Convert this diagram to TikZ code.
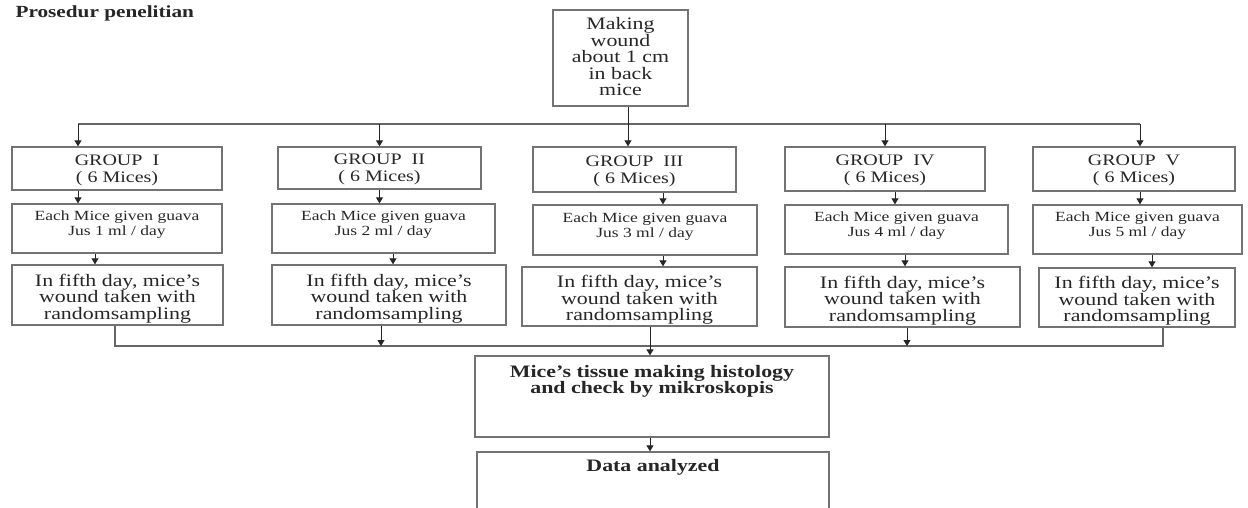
\documentclass[tikz,border=0pt]{standalone}
\usepackage{fontspec}
\setmainfont[FakeStretch=1.25]{Liberation Serif}
\usetikzlibrary{arrows.meta}

\begin{document}
\begin{tikzpicture}[x=1pt,y=-1pt,
    box/.style={draw=black!55, line width=1.3pt, inner sep=0pt, align=center, text=black!85},
    grp/.style={box, font=\fontsize{16}{17}\selectfont, text depth=0pt},
    dose/.style={box, font=\fontsize{14}{15}\selectfont, text depth=10pt},
    take/.style={box, font=\fontsize{17.5}{16.5}\selectfont, text height=48pt, text depth=0pt},
    arr/.style={draw=black!85, line width=1pt, -{Triangle[length=6pt,width=7pt]}},
    bus/.style={draw=black!60, line width=1.2pt}]
    % frame
        \clip (0,0) rectangle (1248,507);
    % title
        \node[font=\fontsize{17}{17}\bfseries\selectfont, text=black!85, anchor=base west] (title) at (12,17) {Prosedur penelitian};
    % start
        \node[box, minimum width=135pt, minimum height=96pt, text depth=3pt, font=\fontsize{17.5}{16.5}\selectfont] (wound) at (620.5,58) {Making\\wound\\about 1 cm\\in back\\mice};
    % groups
        \node[grp, minimum width=210pt, minimum height=43pt] (g1a) at (117,168.5) {GROUP\ \ I\\( 6 Mices)};
        \node[grp, minimum width=203pt, minimum height=42pt] (g2a) at (379.5,168) {GROUP\ \ II\\( 6 Mices)};
        \node[grp, minimum width=203pt, minimum height=45pt] (g3a) at (634.5,169.5) {GROUP\ \ III\\( 6 Mices)};
        \node[grp, minimum width=200pt, minimum height=44pt] (g4a) at (885,169) {GROUP\ \ IV\\( 6 Mices)};
        \node[grp, minimum width=202pt, minimum height=44pt] (g5a) at (1134,169) {GROUP\ \ V\\( 6 Mices)};
    % doses
        \node[dose, minimum width=210pt, minimum height=49pt] (g1b) at (117,228.5) {Each Mice given guava\\Jus 1 ml / day};
        \node[dose, minimum width=223pt, minimum height=49pt] (g2b) at (383.5,228.5) {Each Mice given guava\\Jus 2 ml / day};
        \node[dose, minimum width=224pt, minimum height=50pt] (g3b) at (645,230) {Each Mice given guava\\Jus 3 ml / day};
        \node[dose, minimum width=223pt, minimum height=49pt] (g4b) at (896.5,229.5) {Each Mice given guava\\Jus 4 ml / day};
        \node[dose, minimum width=209pt, minimum height=49pt] (g5b) at (1137.5,229.5) {Each Mice given guava\\Jus 5 ml / day};
    % sampling
        \node[take, minimum width=211pt, minimum height=60pt] (g1c) at (117.5,295) {In fifth day, mice's\\wound taken with\\randomsampling};
        \node[take, minimum width=234pt, minimum height=60pt] (g2c) at (389,295) {In fifth day, mice's\\wound taken with\\randomsampling};
        \node[take, minimum width=235pt, minimum height=59pt] (g3c) at (639.5,296.5) {In fifth day, mice's\\wound taken with\\randomsampling};
        \node[take, minimum width=235pt, minimum height=60pt] (g4c) at (902.5,297) {In fifth day, mice's\\wound taken with\\randomsampling};
        \node[take, minimum width=196pt, minimum height=59pt] (g5c) at (1137,297.5) {In fifth day, mice's\\wound taken with\\randomsampling};
    % end
        \node[box, minimum width=354pt, minimum height=81pt, text depth=34pt, font=\fontsize{17.5}{16.5}\bfseries\selectfont] (tissue) at (652,396.5) {Mice's tissue making histology\\and check by mikroskopis};
        \node[box, minimum width=352pt, minimum height=100pt, text depth=74pt, font=\fontsize{17.5}{16.5}\bfseries\selectfont] (data) at (653,502) {Data analyzed};
    % bus lines
        \coordinate (topL) at (78,124);
        \coordinate (topR) at (1140,124);
        \coordinate (botL) at (115,346);
        \coordinate (botR) at (1163,346);
        \draw[bus] (topL) -- (topR);
        \draw[bus] (g1c.south -| botL) -- (botL) -- (botR) -- (g5c.south -| botR);
    % arrows
        \draw[arr] ([xshift=7.5pt]wound.south) -- ([xshift=-6.5pt]g3a.north);
        \draw[arr] (topL) -- (topL |- g1a.north);
        \draw[arr] (g2a.north |- topL) -- (g2a.north);
        \draw[arr] (g4a.north |- topL) -- (g4a.north);
        \draw[arr] (topR) -- (topR |- g5a.north);
        \draw[arr] (g1a.south -| topL) -- (g1b.north -| topL);
        \draw[arr] (g2a.south) -- (g2a.south |- g2b.north);
        \draw[arr] ([xshift=28.5pt]g3a.south) -- ([xshift=28.5pt]g3a.south |- g3b.north);
        \draw[arr] ([xshift=10pt]g4a.south) -- ([xshift=10pt]g4a.south |- g4b.north);
        \draw[arr] (g5a.south -| topR) -- (g5b.north -| topR);
        \draw[arr] ([xshift=-22pt]g1b.south) -- ([xshift=-22pt]g1b.south |- g1c.north);
        \draw[arr] ([xshift=9.5pt]g2b.south) -- ([xshift=9.5pt]g2b.south |- g2c.north);
        \draw[arr] ([xshift=18pt]g3b.south) -- ([xshift=18pt]g3b.south |- g3c.north);
        \draw[arr] ([xshift=8.5pt]g4b.south) -- ([xshift=8.5pt]g4b.south |- g4c.north);
        \draw[arr] ([xshift=14.5pt]g5b.south) -- ([xshift=14.5pt]g5b.south |- g5c.north);
        \draw[arr] ([xshift=-8pt]g2c.south) -- ([xshift=-8pt]g2c.south |- botL);
        \draw[arr] ([xshift=4.5pt]g4c.south) -- ([xshift=4.5pt]g4c.south |- botL);
        \draw[arr] ([xshift=10.5pt]g3c.south) -- ([xshift=-2pt]tissue.north);
        \draw[arr] ([xshift=-2pt]tissue.south) -- ([xshift=-2pt]tissue.south |- data.north);
\end{tikzpicture}
\end{document}
